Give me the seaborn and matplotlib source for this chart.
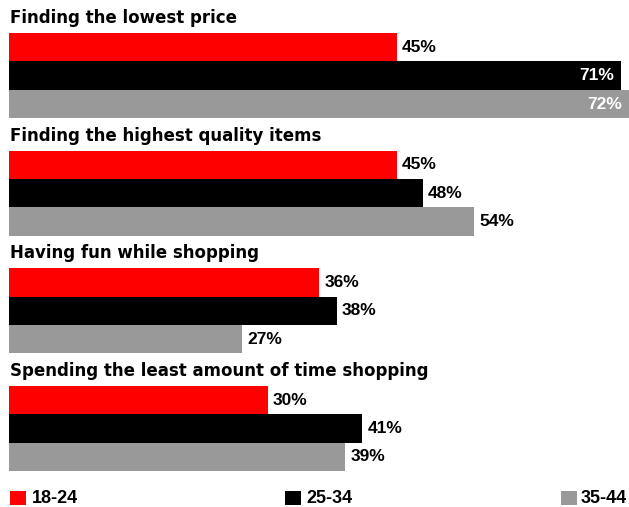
import matplotlib
matplotlib.use("Agg")
import matplotlib.pyplot as plt
import seaborn as sns
import pandas as pd
from matplotlib.patches import Rectangle

categories = ["Finding the lowest price", "Finding the highest quality items",
              "Having fun while shopping", "Spending the least amount of time shopping"]
ages = ["18-24", "25-34", "35-44"]
v_18_24 = [45, 45, 36, 30]
v_25_34 = [71, 48, 38, 41]
v_35_44 = [72, 54, 27, 39]
colors = ["#FF0000", "#000000", "#999999"]

rows = []
for age, vals in zip(ages, [v_18_24, v_25_34, v_35_44]):
    for c, v in zip(categories, vals):
        rows.append({"category": c, "age": age, "value": v})
df = pd.DataFrame(rows)

sns.set_style("white")
fig = plt.figure(figsize=(6.29, 5.07), dpi=100)
ax = fig.add_axes([9/629, 0, 620/629, 1])
sns.barplot(data=df, x="value", y="category", hue="age", order=categories,
            hue_order=ages, palette=colors, saturation=1, width=0.725,
            orient="h", legend=False, ax=ax, edgecolor="none", linewidth=0)
ax.set_xlim(0, 620/8.62)
ax.set_ylim(3.668, -0.643)
ax.axis("off")

for cont in ax.containers:
    for bar in cont:
        w = bar.get_width()
        yc = bar.get_y() + bar.get_height()/2
        if w > 65:
            ax.text(w - 0.85, yc, f"{w:.0f}%", ha="right", va="center", color="white",
                    fontsize=12.5, fontweight="bold", family="Liberation Sans", clip_on=False)
        else:
            ax.text(w + 0.6, yc, f"{w:.0f}%", ha="left", va="center", color="black",
                    fontsize=12.5, fontweight="bold", family="Liberation Sans")

for i, c in enumerate(categories):
    ax.text(0.1, i - 0.49, c, ha="left", va="center", fontsize=12, fontweight="bold",
            family="DejaVu Sans", color="black")

legend_sq = [10, 285, 561]
legend_tx = [32, 306, 581]
for x, xt, age, col in zip(legend_sq, legend_tx, ages, colors):
    fig.patches.append(Rectangle((x/629, 1 - 505/507), 16/629, 14/507, transform=fig.transFigure,
                                 facecolor=col, edgecolor="none"))
    fig.text(xt/629, 1 - 498.5/507, age, ha="left", va="center", fontsize=13,
             fontweight="bold", family="Liberation Sans", color="black")

fig.savefig("out.png", dpi=100)
